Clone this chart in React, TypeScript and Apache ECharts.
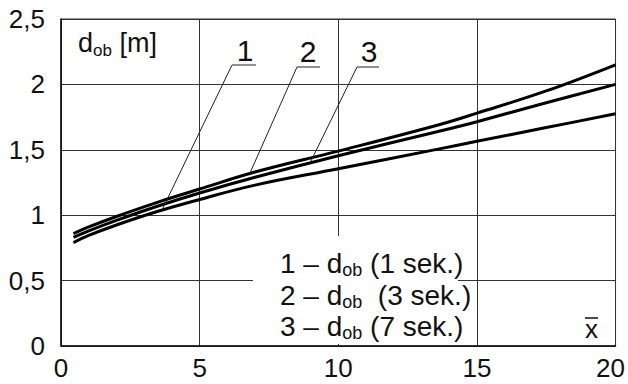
import React, { useEffect, useRef } from "react";
import * as echarts from "echarts";

// x̄ values along the horizontal axis
const xValues = [0.45, 1, 2, 3.5, 5, 7, 10, 13.6, 15, 17.5, 20];
// d_ob [m] for each exposure time
const curve1 = [0.79, 0.845, 0.925, 1.03, 1.12, 1.23, 1.355, 1.505, 1.565, 1.67, 1.775]; // 1 sek.
const curve2 = [0.83, 0.88, 0.96, 1.07, 1.17, 1.29, 1.455, 1.64, 1.715, 1.86, 2.0]; // 3 sek.
const curve3 = [0.86, 0.91, 0.99, 1.1, 1.2, 1.33, 1.49, 1.69, 1.78, 1.95, 2.15]; // 7 sek.
const seriesNames = ["1 – dob (1 sek.)", "2 – dob (3 sek.)", "3 – dob (7 sek.)"];
const legendPrefix = ["1 – d", "2 – d", "3 – d"];
const legendSuffix = [" (1 sek.)", "  (3 sek.)", " (7 sek.)"];
const curveLabels = ["1", "2", "3"];
const xTicks = { min: 0, max: 20, interval: 5 };
const yTicks = { min: 0, max: 2.5, interval: 0.5 };

const FONT = "'Liberation Sans', Arial, Helvetica, sans-serif";

export default function App() {
  const ref = useRef<HTMLDivElement>(null);

  useEffect(() => {
    if (!ref.current) return;
    const chart = echarts.init(ref.current, undefined, { renderer: "svg" });
    const curves = [curve1, curve2, curve3];

    const richMain = { fontSize: 28, fontFamily: FONT, fill: "#111", color: "#111", lineHeight: 32 };
    const richSub = {
      fontSize: 18,
      fontFamily: FONT,
      fill: "#111",
      color: "#111",
      lineHeight: 16,
      verticalAlign: "bottom",
    };

    const legendY = [263, 295, 326];
    const legendTexts = legendPrefix.map((p, i) => ({
      type: "text",
      x: 280,
      y: legendY[i],
      z: 20,
      style: {
        text: `{a|${p}}{s|ob}{a|${legendSuffix[i]}}`,
        rich: { a: richMain, s: richSub },
        align: "left",
        textAlign: "left",
        verticalAlign: "middle",
        textVerticalAlign: "middle",
        fill: "#111",
      },
    }));

    const labelPos = [
      { tx: 245, ty: 50, pts: [[256, 65], [232, 65], [162, 210]] },
      { tx: 308, ty: 51, pts: [[320, 67], [297, 67], [250, 173]] },
      { tx: 369, ty: 51, pts: [[379, 67], [357, 67], [310, 163]] },
    ];
    const leaderGraphics: any[] = [];
    labelPos.forEach((l, i) => {
      leaderGraphics.push({
        type: "polyline",
        z: 20,
        shape: { points: l.pts },
        style: { stroke: "#222", lineWidth: 1, fill: null },
      });
      leaderGraphics.push({
        type: "text",
        x: l.tx,
        y: l.ty,
        z: 20,
        style: {
          text: curveLabels[i],
          fontSize: 30,
          fontFamily: FONT,
          fill: "#111",
          align: "center",
          textAlign: "center",
          verticalAlign: "middle",
          textVerticalAlign: "middle",
        },
      });
    });

    const option: any = {
      animation: false,
      backgroundColor: "#fff",
      grid: {
        left: 61,
        right: 11,
        top: 19,
        bottom: 38,
        show: true,
        borderColor: "#333",
        borderWidth: 1,
        backgroundColor: "transparent",
      },
      xAxis: {
        type: "value",
        min: xTicks.min,
        max: xTicks.max,
        interval: xTicks.interval,
        axisLine: { show: true, lineStyle: { color: "#111", width: 1.5 } },
        axisTick: { show: false },
        axisLabel: {
          fontSize: 26,
          fontFamily: FONT,
          color: "#111",
          margin: 9,
          formatter: (v: number) => (v === xTicks.max ? `{r|${v}}` : `${v}`),
          rich: { r: { fontSize: 26, fontFamily: FONT, color: "#111", padding: [0, 10, 0, 0] } },
        },
        splitLine: { show: true, lineStyle: { color: "#333", width: 1 } },
      },
      yAxis: {
        type: "value",
        min: yTicks.min,
        max: yTicks.max,
        interval: yTicks.interval,
        axisLine: { show: true, lineStyle: { color: "#111", width: 1.5 } },
        axisTick: { show: false },
        axisLabel: {
          fontSize: 26,
          fontFamily: FONT,
          color: "#111",
          margin: 16,
          formatter: (v: number) => String(v).replace(".", ","),
        },
        splitLine: { show: true, lineStyle: { color: "#333", width: 1 } },
      },
      series: curves.map((c, i) => ({
        name: seriesNames[i],
        type: "line",
        smooth: 0.4,
        showSymbol: false,
        symbol: "none",
        z: 5,
        lineStyle: { color: "#000", width: 3 },
        data: xValues.map((x, j) => [x, c[j]]),
      })),
      graphic: [
        {
          type: "rect",
          z: 10,
          shape: { x: 253, y: 236, width: 205, height: 108 },
          style: { fill: "#fff" },
        },
        ...legendTexts,
        ...leaderGraphics,
        {
          type: "text",
          x: 78,
          y: 43,
          z: 20,
          style: {
            text: "{a|d}{s|ob}{a| [m]}",
            rich: { a: { ...richMain, fontSize: 27 }, s: { ...richSub, fontSize: 17 } },
            align: "left",
            textAlign: "left",
            verticalAlign: "middle",
            textVerticalAlign: "middle",
            fill: "#111",
          },
        },
        {
          type: "text",
          x: 591.5,
          y: 329,
          z: 20,
          style: {
            text: "x",
            fontSize: 26,
            fontFamily: FONT,
            fill: "#111",
            align: "center",
            textAlign: "center",
            verticalAlign: "middle",
            textVerticalAlign: "middle",
          },
        },
        {
          type: "line",
          z: 20,
          shape: { x1: 585, y1: 318, x2: 598, y2: 318 },
          style: { stroke: "#111", lineWidth: 1.5 },
        },
      ],
    };

    chart.setOption(option);
    return () => chart.dispose();
  }, []);

  return (
    <div
      ref={ref}
      style={{ position: "fixed", left: 0, top: 0, width: 628, height: 384, background: "#fff" }}
    />
  );
}
